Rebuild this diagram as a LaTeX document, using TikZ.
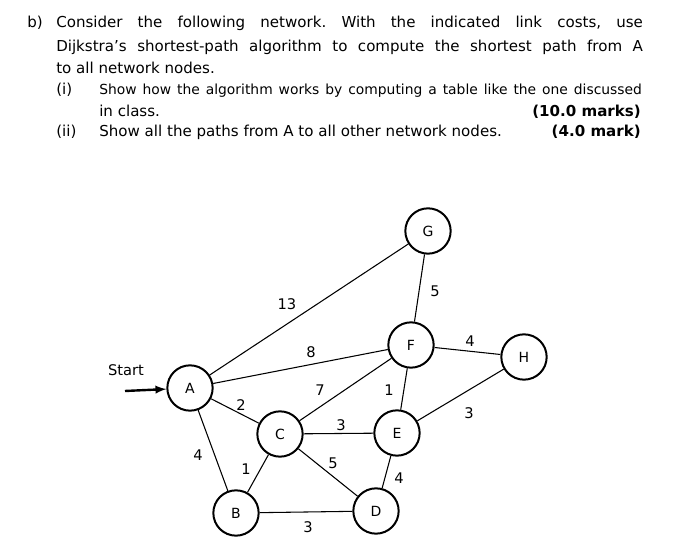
\documentclass[tikz,border=0pt]{standalone}
\usepackage{fontspec}
\setmainfont{DejaVu Sans}
\frenchspacing
\usetikzlibrary{positioning}
\tikzset{
    netnode/.style={circle,draw=black,line width=1.5pt,minimum size=34pt,inner sep=0pt,font=\fontsize{10.5}{12}\selectfont},
    link/.style={draw=black,line width=0.8pt},
    cost/.style={font=\fontsize{11}{13}\selectfont,inner sep=0pt},
    txt/.style={anchor=base west,inner sep=0pt,font=\fontsize{11.3}{13}\selectfont},
}
\begin{document}
\begin{tikzpicture}[x=0.75pt,y=-0.75pt,>=latex]
\useasboundingbox (0,0) rectangle (675,555);
% question text
\node[txt] (qb) at (27,28) {b)};
\node[txt] (q1) at (56,28) {\makebox[440pt][s]{Consider the following network. With the indicated link costs, use}};
\node[txt] (q2) at (56,52) {\makebox[440pt][s]{Dijkstra’s shortest-path algorithm to compute the shortest path from A}};
\node[txt] (q3) at (56,74) {to all network nodes.};
\node[txt] (qi) at (56,95) {(i)};
\node[txt] (qi1) at (99,95) {\makebox[407pt][s]{\fontsize{10.4}{12}\selectfont Show how the algorithm works by computing a table like the one discussed}};
\node[txt] (qi2) at (99,117) {in class.};
\node[txt,anchor=base east] (mk1) at (641,117) {\bfseries(10.0 marks)};
\node[txt] (qii) at (56,137) {(ii)};
\node[txt] (qii1) at (99,137) {Show all the paths from A to all other network nodes.};
\node[txt,anchor=base east] (mk2) at (641,137) {\bfseries(4.0 mark)};
% network
\node[netnode] (A) at (190,388) {A};
\node[netnode] (B) at (236,513) {B};
\node[netnode] (C) at (280,434) {C};
\node[netnode] (D) at (376,511) {D};
\node[netnode] (E) at (397,433) {E};
\node[netnode] (F) at (411,345) {F};
\node[netnode] (G) at (428,231) {G};
\node[netnode] (H) at (524,357) {H};
\draw[link] (A) -- (G);
\draw[link] (A) -- (F);
\draw[link] (A) -- (C);
\draw[link] (A) -- (B);
\draw[link] (C) -- (F);
\draw[link] (C) -- (E);
\draw[link] (C) -- (D);
\draw[link] (B) -- (C);
\draw[link] (B) -- (D);
\draw[link] (E) -- (D);
\draw[link] (E) -- (F);
\draw[link] (F) -- (G);
\draw[link] (F) -- (H);
\draw[link] (E) -- (H);
% costs
\node[cost] (c13) at (287,304) {13};
\node[cost] (c8) at (311,352) {8};
\node[cost] (c7) at (320,390) {7};
\node[cost] (c2) at (241,405) {2};
\node[cost] (cEF) at (389,390) {1};
\node[cost] (cCE) at (341,425) {3};
\node[cost] (cCD) at (333,463) {5};
\node[cost] (cAB) at (198,455) {4};
\node[cost] (cBC) at (246,469) {1};
\node[cost] (cED) at (399,478) {4};
\node[cost] (cBD) at (308,527) {3};
\node[cost] (cFG) at (435,291) {5};
\node[cost] (cFH) at (470,341) {4};
\node[cost] (cEH) at (469,413) {3};
% start
\node[cost] (start) at (126,370) {Start};
\coordinate (s0) at (125,391);
\draw[line width=1.8pt,->] (s0) -- (A);
\end{tikzpicture}
\end{document}
